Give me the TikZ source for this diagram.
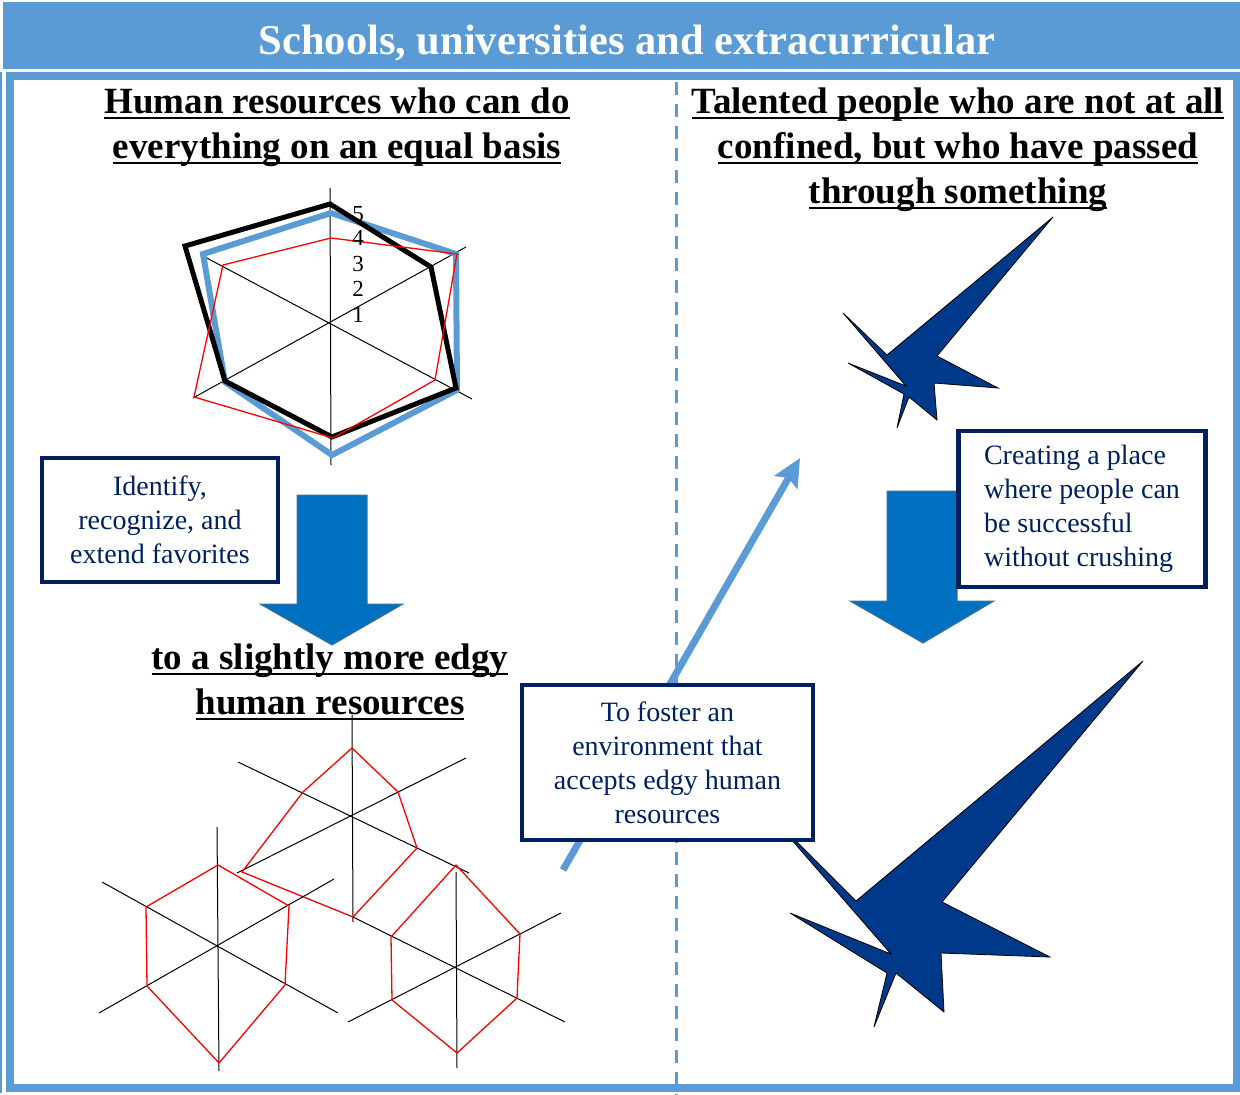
\documentclass[tikz,border=0pt]{standalone}
\usepackage{fontspec}
\setmainfont{LiberationSerif}[Extension=.ttf, UprightFont=*-Regular, BoldFont=*-Bold, ItalicFont=*-Italic, BoldItalicFont=*-BoldItalic]
\usetikzlibrary{arrows.meta}
\definecolor{frameblue}{RGB}{91,155,213}
\definecolor{navy}{RGB}{0,32,96}
\definecolor{starblue}{RGB}{0,57,138}
\definecolor{blockblue}{RGB}{0,112,192}
\definecolor{blockedge}{RGB}{65,113,156}
\newcommand\hul[1]{\setbox0\hbox{#1}\rlap{\rule[-6pt]{\wd0}{2pt}}\box0}
\begin{document}
\begin{tikzpicture}[x=1pt,y=-1pt,
  heading/.style={font=\fontsize{37}{45}\selectfont\bfseries, anchor=base, inner sep=0},
  box/.style={draw=navy, line width=4.5pt, fill=white, text=navy, font=\fontsize{28}{34}\selectfont, inner sep=0},
  axisline/.style={black, line width=1pt},
  redpoly/.style={red, line width=1.3pt, line join=miter},
  blackpoly/.style={black, line width=5pt, line join=miter},
  bluepoly/.style={frameblue, line width=6pt, line join=miter},
  starshape/.style={fill=starblue, draw=black, line width=0.8pt, line join=miter},
  blockarrow/.style={fill=blockblue, draw=blockedge, line width=1pt},
  numlabel/.style={font=\fontsize{23}{23}\selectfont, anchor=base, inner sep=0}]
\useasboundingbox (0,0) rectangle (1240,1095);

% title bar and frame
\fill[frameblue] (3,2) rectangle (1240,69);
\node[anchor=base, text=white, font=\fontsize{42.5}{48}\selectfont\bfseries, inner sep=0] (title) at (627,54) {Schools, universities and extracurricular};
\draw[frameblue, line width=8pt] (10,76) rectangle (1237,1088);
\draw[frameblue, line width=2pt] (1,72) -- (1,1093);
\draw[frameblue, line width=3pt, dash pattern=on 13pt off 9pt] (676,82) -- (676,1095);

% headings
\node[heading] (hl1) at (337,113) {\hul{Human resources who can do}};
\node[heading] (hl2) at (337,158) {\hul{everything on an equal basis}};
\node[heading] (hr1) at (958,113) {\hul{Talented people who are not at all}};
\node[heading] (hr2) at (958,158) {\hul{confined, but who have passed}};
\node[heading] (hr3) at (958,203) {\hul{through something}};

% top radar chart
\draw[axisline] (330,188) -- (331,465);
\draw[axisline] (203,256) -- (472,399);
\draw[axisline] (193,398) -- (466,247);
\draw[bluepoly] (331,213) -- (456,254) -- (457,390) -- (332,455) -- (225,382) -- (203,254) -- cycle;
\draw[blackpoly] (330,204) -- (431,267) -- (456,388) -- (332,437) -- (225,381) -- (185,246) -- cycle;
\draw[redpoly] (331,238) -- (457,254) -- (435,380) -- (333,438) -- (194,397) -- (223,265) -- cycle;
\node[numlabel] (n5) at (358,221) {5};
\node[numlabel] (n4) at (358,245) {4};
\node[numlabel] (n3) at (358,271) {3};
\node[numlabel] (n2) at (358,296) {2};
\node[numlabel] (n1) at (358,322) {1};

% block arrows
\draw[blockarrow] (297,495) -- (367,495) -- (367,604) -- (403,604) -- (332,645) -- (260,604) -- (297,604) -- cycle;
\draw[blockarrow] (887,491) -- (957,491) -- (957,601) -- (994,601) -- (923,643) -- (850,601) -- (887,601) -- cycle;

% middle heading
\node[heading] (hm1) at (330,669) {\hul{to a slightly more edgy}};
\node[heading] (hm2) at (330,714) {\hul{human resources}};

% bottom radar charts
% chart A
\draw[axisline] (352,715) -- (353,922);
\draw[axisline] (238,762) -- (469,873);
\draw[axisline] (237,873) -- (466,758);
\draw[redpoly] (352,748) -- (398,792) -- (417,848) -- (353,917) -- (242,872) -- (303,792) -- cycle;
% chart B
\draw[axisline] (217,827) -- (219,1071);
\draw[axisline] (102,882) -- (338,1013);
\draw[axisline] (99,1013) -- (334,879);
\draw[redpoly] (218,865) -- (289,906) -- (285,985) -- (219,1063) -- (147,986) -- (146,907) -- cycle;
% chart C
\draw[axisline] (456,872) -- (457,1068);
\draw[axisline] (353,917) -- (565,1022);
\draw[axisline] (348,1022) -- (561,913);
\draw[redpoly] (456,865) -- (520,934) -- (517,998) -- (457,1053) -- (392,1000) -- (391,937) -- cycle;

% stars
\draw[starshape] (1053,217) -- (937,356) -- (998,388) -- (934,383) -- (937,420) -- (909,397) -- (897,428) -- (904,394) -- (848,363) -- (906,386) -- (843,313) -- (887,355) -- cycle;
\draw[starshape] (1143,661) -- (942,902) -- (1050,957) -- (941,953) -- (944,1012) -- (896,973) -- (874,1027) -- (887,973) -- (790,913) -- (891,954) -- (770,815) -- (856,901) -- cycle;

% arrow
\coordinate (arrS) at (563,870);
\coordinate (arrE) at (800,458);
\draw[frameblue, line width=7pt, -{Stealth[length=28pt,width=26pt,inset=5pt]}] (arrS) -- (arrE);

% boxes
\node[box, minimum width=236pt, minimum height=124pt, align=center] (b1) at (160,520) {Identify,\\recognize, and\\extend favorites};
\node[box, minimum width=291pt, minimum height=155pt, align=center] (b2) at (667.5,762.5) {To foster an\\environment that\\accepts edgy human\\resources};
\node[box, minimum width=247pt, minimum height=156pt, align=left] (b3) at (1082,509) {Creating a place\\where people can\\be successful\\without crushing};
\end{tikzpicture}
\end{document}
